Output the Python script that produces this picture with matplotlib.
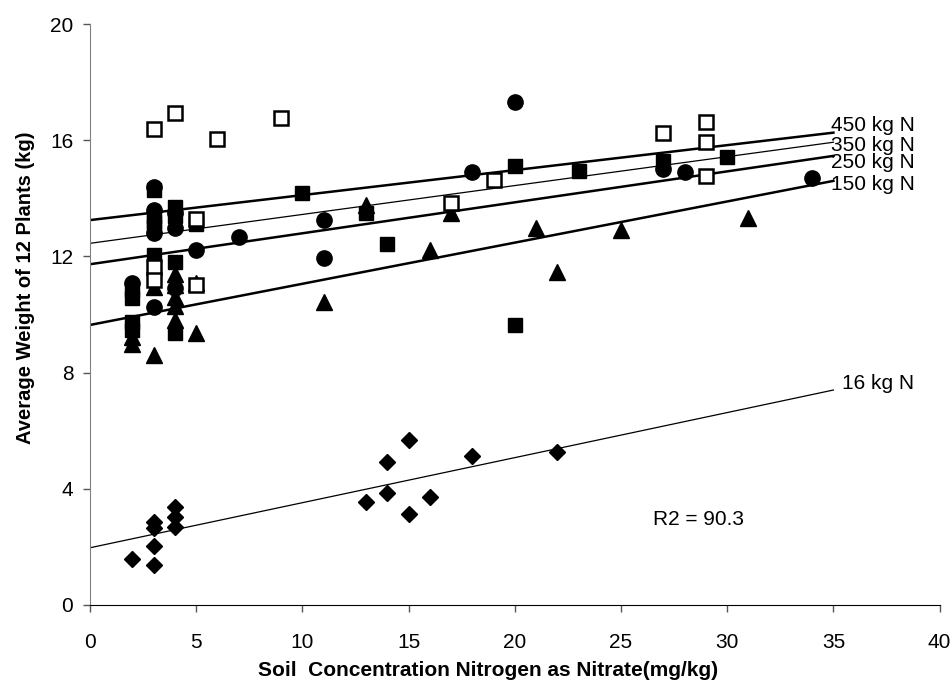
import matplotlib.pyplot as plt
import numpy as np

plt.rcParams['font.family'] = ['Liberation Sans', 'DejaVu Sans']

# 16 kg N (diamonds)
x16 = [2, 3, 3, 3, 3, 4, 4, 4, 13, 14, 14, 15, 15, 16, 18, 22]
y16 = [1.58, 1.38, 2.04, 2.64, 2.87, 3.38, 3.04, 2.67, 3.53, 3.84, 4.93, 5.68, 3.12, 3.71, 5.14, 5.28]

# 150 kg N (triangles)
x150 = [2, 2, 3, 3, 4, 4, 4, 4, 4, 5, 5, 11, 13, 16, 17, 21, 22, 25, 31]
y150 = [9.24, 9.0, 10.96, 8.6, 11.4, 11.0, 10.6, 10.3, 9.81, 11.08, 9.36, 10.44, 13.77, 12.22, 13.48, 12.97, 11.47, 12.91, 13.31]

# 250 kg N (circles)
x250 = [2, 3, 3, 3, 3, 4, 4, 4, 5, 7, 11, 11, 18, 20, 27, 28, 34]
y250 = [11.07, 14.4, 13.6, 12.8, 10.27, 12.98, 13.5, 10.9, 12.22, 12.68, 13.25, 11.93, 14.89, 17.31, 15.0, 14.89, 14.69]

# 350 kg N (open squares)
x350 = [3, 3, 3, 4, 5, 5, 6, 9, 17, 19, 27, 29, 29, 29]
y350 = [16.4, 11.62, 11.19, 16.95, 13.3, 11.0, 16.03, 16.75, 13.83, 14.63, 16.24, 16.64, 15.95, 14.77]

# 450 kg N (filled squares)
x450 = [2, 2, 2, 2, 3, 3, 3, 3, 3, 4, 4, 4, 4, 5, 10, 13, 14, 20, 20, 23, 27, 30]
y450 = [10.84, 10.57, 9.75, 9.47, 14.3, 13.4, 13.2, 13.0, 12.05, 13.71, 13.4, 11.82, 9.36, 13.1,
        14.17, 13.48, 12.43, 15.11, 9.64, 14.95, 15.3, 15.43]

# fitted lines: value at x=0 and at x=35
line_names = ['450 kg N', '350 kg N', '250 kg N', '150 kg N', '16 kg N']
line_start = [13.25, 12.45, 11.73, 9.64, 1.97]
line_end = [16.26, 15.93, 15.46, 14.6, 7.40]
line_width = [1.8, 0.9, 1.8, 1.8, 0.9]
label_y = [16.52, 15.83, 15.23, 14.46, 7.63]

fig = plt.figure(figsize=(9.52, 6.9), dpi=100)
ax = fig.add_axes([0.0945, 0.1232, 0.8925, 0.842])

for name, y0, y1, lw, ly in zip(line_names, line_start, line_end, line_width, label_y):
    ax.plot([0, 35], [y0, y1], color='black', linewidth=lw, zorder=2)
    lx = 35.4 if name == '16 kg N' else 34.9
    ax.text(lx, ly, name, fontsize=15, va='center', ha='left', zorder=4)

ax.plot(x16, y16, 'D', color='black', markersize=8, linestyle='none', zorder=3)
ax.plot(x150, y150, '^', color='black', markersize=11, linestyle='none', zorder=3)
ax.plot(x250, y250, 'o', color='black', markersize=11, linestyle='none', zorder=3)
ax.plot(x450, y450, 's', color='black', markersize=10.5, linestyle='none', zorder=3)
ax.plot(x350, y350, 's', markerfacecolor='white', markeredgecolor='black', markeredgewidth=1.8,
        markersize=10, linestyle='none', zorder=3)

ax.text(26.5, 2.96, 'R2 = 90.3', fontsize=15, va='center', ha='left')

ax.set_xlim(0, 40)
ax.set_ylim(0, 20)
ax.set_xticks(np.arange(0, 41, 5))
ax.set_yticks(np.arange(0, 21, 4))
ax.tick_params(axis='both', labelsize=15, direction='out', length=5, width=1, colors='#555555',
               labelcolor='black')
ax.tick_params(axis='x', pad=15)
ax.tick_params(axis='y', pad=7)
ax.spines['top'].set_visible(False)
ax.spines['right'].set_visible(False)
ax.spines['left'].set_color('#808080')
ax.spines['bottom'].set_color('black')

ax.set_xlabel('Soil  Concentration Nitrogen as Nitrate(mg/kg)', fontsize=15, fontweight='bold')
ax.set_ylabel('Average Weight of 12 Plants (kg)', fontsize=14.5, fontweight='bold')
ax.xaxis.set_label_coords(0.468, -0.097)
ax.yaxis.set_label_coords(-0.065, 0.546)

plt.savefig('out.png')
